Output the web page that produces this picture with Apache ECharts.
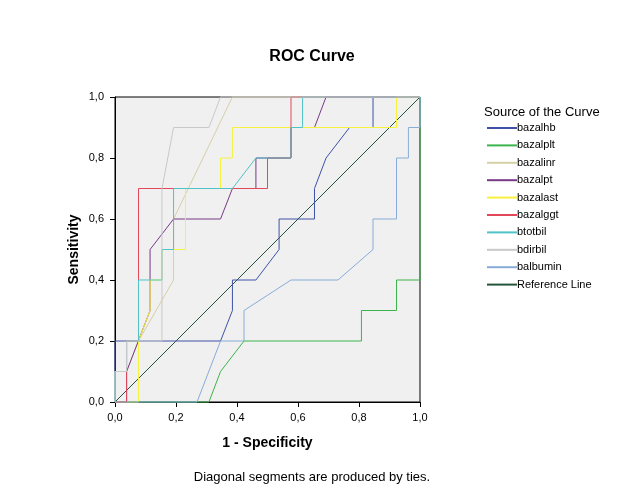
<!DOCTYPE html>
<html><head><meta charset="utf-8">
<script src="https://cdn.jsdelivr.net/npm/echarts@6/dist/echarts.min.js"></script>
<style>html,body{margin:0;padding:0;background:#fff}#c{width:624px;height:501px}</style>
</head><body><div id="c"></div>
<script>
// ROC curve points [1 - specificity, sensitivity]
const bazalhb = [[0,0],[0,0.2],[0.346,0.2],[0.385,0.3],[0.385,0.4],[0.462,0.4],[0.538,0.5],[0.538,0.6],[0.654,0.6],[0.654,0.7],[0.692,0.8],[0.769,0.9],[0.846,0.9],[0.846,1],[1,1]];
const bazalplt = [[0,0],[0.308,0],[0.346,0.1],[0.423,0.2],[0.808,0.2],[0.808,0.3],[0.923,0.3],[0.923,0.4],[1,0.4],[1,1]];
const bazalinr = [[0,0],[0,0.1],[0.038,0.1],[0.077,0.2],[0.192,0.4],[0.192,0.6],[0.385,1],[1,1]];
const bazalpt = [[0,0],[0.038,0],[0.038,0.1],[0.115,0.3],[0.115,0.5],[0.192,0.6],[0.346,0.6],[0.385,0.7],[0.462,0.7],[0.462,0.8],[0.577,0.8],[0.577,0.9],[0.654,0.9],[0.692,1],[1,1]];
const bazalast = [[0,0],[0.077,0],[0.077,0.2],[0.115,0.3],[0.115,0.4],[0.154,0.4],[0.154,0.5],[0.231,0.5],[0.231,0.7],[0.346,0.7],[0.346,0.8],[0.385,0.8],[0.385,0.9],[0.923,0.9],[0.923,1],[1,1]];
const bazalggt = [[0,0],[0.038,0],[0.038,0.2],[0.077,0.2],[0.077,0.7],[0.5,0.7],[0.5,0.8],[0.577,0.8],[0.577,1],[1,1]];
const btotbil = [[0,0],[0,0.1],[0.038,0.1],[0.038,0.2],[0.077,0.2],[0.077,0.4],[0.154,0.4],[0.154,0.5],[0.192,0.5],[0.192,0.7],[0.385,0.7],[0.462,0.8],[0.577,0.8],[0.577,0.9],[0.615,0.9],[0.615,1],[1,1]];
const bdirbil = [[0,0],[0,0.1],[0.038,0.1],[0.038,0.2],[0.154,0.2],[0.154,0.7],[0.192,0.9],[0.308,0.9],[0.346,1],[1,1]];
const balbumin = [[0,0],[0.269,0],[0.346,0.2],[0.423,0.2],[0.423,0.3],[0.577,0.4],[0.731,0.4],[0.846,0.5],[0.846,0.6],[0.923,0.6],[0.923,0.8],[0.962,0.8],[0.962,0.9],[1,0.9],[1,1]];
const referenceLine = [[0,0],[1,1]];

const curveNames = ['bazalhb','bazalplt','bazalinr','bazalpt','bazalast','bazalggt','btotbil','bdirbil','balbumin','Reference Line'];
const curveData = [bazalhb,bazalplt,bazalinr,bazalpt,bazalast,bazalggt,btotbil,bdirbil,balbumin,referenceLine];
const curveColors = ['#3f52a8','#3cb44b','#d6d0a6','#773a86','#f6f23e','#e2475a','#4fc3c7','#c9c9c9','#88acd8','#24543a'];
const axisTicks = [0,0.2,0.4,0.6,0.8,1.0];

const FONT = '"Liberation Sans", Arial, sans-serif';
const chart = echarts.init(document.getElementById('c'), null, {renderer:'canvas'});
const fmt = v => v.toFixed(1).replace('.', ',');

chart.setOption({
  animation: false,
  backgroundColor: '#ffffff',
  textStyle: {fontFamily: FONT, color: '#000'},
  title: [
    {text: 'ROC Curve', left: 'center', top: 49, padding: 0, textStyle: {fontSize: 16, fontWeight: 'bold', color: '#000', fontFamily: FONT}},
    {text: 'Diagonal segments are produced by ties.', left: 'center', top: 471, padding: 0, textStyle: {fontSize: 13, fontWeight: 'normal', color: '#000', fontFamily: FONT}},
    {text: 'Source of the Curve', left: 484, top: 106, padding: 0, textStyle: {fontSize: 13, fontWeight: 'normal', color: '#000', fontFamily: FONT}}
  ],
  grid: {left: 115, top: 97, width: 305, height: 305, show: true, backgroundColor: '#f0f0f0', borderColor: '#000', borderWidth: 1},
  legend: {
    orient: 'vertical', left: 487, top: 122, padding: 0, itemWidth: 30, itemHeight: 2, itemGap: 5.4,
    icon: 'rect', selectedMode: false,
    data: curveNames,
    textStyle: {fontSize: 11, color: '#000', fontFamily: FONT, lineHeight: 12, padding: [0,0,0,-5]}
  },
  xAxis: {
    type: 'value', min: axisTicks[0], max: axisTicks[axisTicks.length-1], interval: 0.2,
    name: '1 - Specificity', nameLocation: 'middle', nameGap: 34,
    nameTextStyle: {fontSize: 14, fontWeight: 'bold', color: '#000', fontFamily: FONT},
    axisLine: {show: true, lineStyle: {color: '#000', width: 1}},
    axisTick: {show: true, length: 5, inside: false, lineStyle: {color: '#000'}},
    axisLabel: {formatter: fmt, fontSize: 11, color: '#000', margin: 10, fontFamily: FONT},
    splitLine: {show: false}
  },
  yAxis: {
    type: 'value', min: axisTicks[0], max: axisTicks[axisTicks.length-1], interval: 0.2,
    name: 'Sensitivity', nameLocation: 'middle', nameGap: 34, nameRotate: 90,
    nameTextStyle: {fontSize: 14, fontWeight: 'bold', color: '#000', fontFamily: FONT},
    axisLine: {show: true, lineStyle: {color: '#000', width: 1}},
    axisTick: {show: true, length: 5, inside: false, lineStyle: {color: '#000'}},
    axisLabel: {formatter: fmt, fontSize: 11, color: '#000', margin: 11, fontFamily: FONT},
    splitLine: {show: false}
  },
  series: curveNames.map((n, i) => ({
    name: n, type: 'line', data: curveData[i], showSymbol: false, symbol: 'none',
    clip: false, silent: true, color: curveColors[i],
    lineStyle: {color: curveColors[i], width: 1},
    emphasis: {disabled: true}, z: i === 9 ? 1 : 2
  }))
});
</script>
</body></html>
